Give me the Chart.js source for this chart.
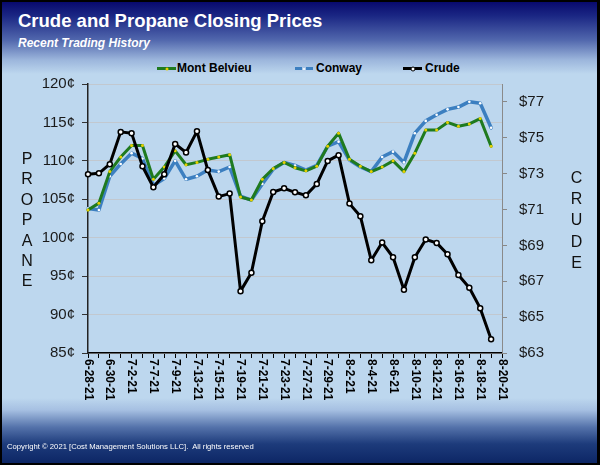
<!DOCTYPE html>
<html>
<head>
<meta charset="utf-8">
<script src="https://cdn.jsdelivr.net/npm/chart.js@4.4.0/dist/chart.umd.min.js"></script>
<style>
  body { margin: 0; }
  #wrap {
    position: relative; width: 600px; height: 465px; overflow: hidden;
    font-family: Arial, "Liberation Sans", sans-serif;
    background: linear-gradient(to bottom, #05056a 0px, #1b2784 16px, #5167ad 40px, #9cb6dc 60px, #bdd7ee 74px,
      #bdd7ee 398px, #a6c0e2 410px, #5573ab 427px, #1d3b7b 444px, #0b2463 465px);
  }
  #wrap::after {
    content: ""; position: absolute; left: 0; top: 0; right: 0; bottom: 0;
    border: solid #000; border-width: 2px 3px 2px 2px; pointer-events: none;
  }
  canvas { position: absolute; left: 0; top: 0; }
  .t1 { position: absolute; left: 18px; top: 12px; color: #fff; font-weight: bold; font-size: 18.5px; line-height: 18.5px; white-space: nowrap; }
  .t2 { position: absolute; left: 18px; top: 36.5px; color: #fff; font-weight: bold; font-style: italic; font-size: 12px; line-height: 12px; white-space: nowrap; }
  .foot { position: absolute; left: 7px; top: 443px; color: #fff; font-size: 7.7px; line-height: 7.7px; white-space: pre; }
  .lg { position: absolute; top: 61px; font-weight: bold; font-size: 12px; line-height: 14px; color: #000; white-space: nowrap; }
  .mk { position: absolute; top: 67px; height: 3px; }
  .dot { position: absolute; left: 50%; top: 50%; transform: translate(-50%, -50%); border-radius: 50%; }
</style>
</head>
<body>
<div id="wrap">
  <div class="t1">Crude and Propane Closing Prices</div>
  <div class="t2">Recent Trading History</div>

  <div class="mk" style="left:157px;width:19px;background:#1f7a1f"><span class="dot" style="width:3px;height:3px;background:#e8d000"></span></div>
  <div class="lg" style="left:177px">Mont Belvieu</div>
  <div class="mk" style="left:295px;width:18px;background:linear-gradient(to right,#3c7fc0 0 7px,transparent 7px 11px,#3c7fc0 11px)"><span class="dot" style="width:2px;height:2px;background:#fff"></span></div>
  <div class="lg" style="left:316px">Conway</div>
  <div class="mk" style="left:403px;width:19px;background:#000"><span class="dot" style="width:3px;height:3px;background:#fff;border:1.5px solid #000"></span></div>
  <div class="lg" style="left:425px">Crude</div>

  <canvas id="chart" width="600" height="465"></canvas>
  <div class="foot">Copyright © 2021 [Cost Management Solutions LLC].  All rights reserved</div>
</div>

<script>
  // trading days (only every other one gets a label on the axis)
  const dates = [
    "6-28-21", "6-29-21", "6-30-21", "7-1-21", "7-2-21", "7-6-21", "7-7-21", "7-8-21", "7-9-21",
    "7-12-21", "7-13-21", "7-14-21", "7-15-21", "7-16-21", "7-19-21", "7-20-21", "7-21-21", "7-22-21",
    "7-23-21", "7-26-21", "7-27-21", "7-28-21", "7-29-21", "7-30-21", "8-2-21", "8-3-21", "8-4-21",
    "8-5-21", "8-6-21", "8-9-21", "8-10-21", "8-11-21", "8-12-21", "8-13-21", "8-16-21", "8-17-21",
    "8-18-21", "8-19-21", "8-20-21"
  ];

  // propane, cents per gallon
  const montBelvieu = [
    103.6, 104.5, 108.6, 110.5, 112.0, 112.0, 107.6, 109.2, 111.3, 109.5,
    109.8, 110.2, 110.5, 110.8, 105.3, 104.9, 107.6, 109.0, 109.8, 109.1,
    108.7, 109.3, 111.9, 113.6, 110.2, 109.3, 108.6, 109.2, 110.0, 108.6,
    111.0, 114.0, 114.0, 115.0, 114.5, 114.8, 115.5, 111.9
  ];
  const conway = [
    103.8, 103.6, 108.0, 109.6, 111.0, 110.3, 106.8, 107.7, 110.0, 107.6,
    108.0, 108.8, 108.6, 109.2, 105.4, 104.9, 107.0, 108.9, 109.8, 109.4,
    108.8, 109.4, 111.9, 112.5, 110.1, 109.2, 108.6, 110.5, 111.2, 109.8,
    113.6, 115.2, 116.0, 116.7, 117.0, 117.7, 117.5, 114.3
  ];

  // crude, dollars per barrel
  const crude = [
    72.97, 73.02, 73.53, 75.33, 75.26, 73.41, 72.24, 72.97, 74.66, 74.18,
    75.36, 73.20, 71.72, 71.89, 66.45, 67.48, 70.35, 71.98, 72.18, 71.96,
    71.79, 72.42, 73.71, 74.03, 71.33, 70.63, 68.17, 69.16, 68.34, 66.53,
    68.34, 69.33, 69.14, 68.51, 67.35, 66.64, 65.50, 63.77
  ];

  const propaneTicks = [85, 90, 95, 100, 105, 110, 115, 120];
  const crudeTicks = [63, 65, 67, 69, 71, 73, 75, 77];
  const leftName = "PROPANE";
  const rightName = "CRUDE";

  Chart.defaults.font.family = "Arial, 'Liberation Sans', sans-serif";

  // rotated date labels and the stacked axis names
  const sideText = {
    id: "sideText",
    afterDraw(chart) {
      const ctx = chart.ctx;
      const xs = chart.scales.x;
      ctx.save();
      ctx.fillStyle = "#000";
      ctx.font = "bold 12px Arial, 'Liberation Sans', sans-serif";
      ctx.textAlign = "left";
      ctx.textBaseline = "middle";
      dates.forEach((d, i) => {
        if (i % 2) return;
        ctx.save();
        ctx.translate(xs.getPixelForValue(i), xs.top + 6);
        ctx.rotate(Math.PI / 2);
        ctx.fillText(d, 0, 0);
        ctx.restore();
      });
      ctx.fillStyle = "#111";
      ctx.font = "16px Arial, 'Liberation Sans', sans-serif";
      ctx.textAlign = "center";
      [...leftName].forEach((ch, k) => ctx.fillText(ch, 27, 159.5 + k * 20.4));
      [...rightName].forEach((ch, k) => ctx.fillText(ch, 576.5, 178.5 + k * 21.25));
      ctx.restore();
    }
  };

  new Chart(document.getElementById("chart").getContext("2d"), {
    type: "line",
    data: {
      labels: dates,
      datasets: [
        {
          label: "Crude",
          data: crude,
          yAxisID: "y2",
          borderColor: "#000",
          borderWidth: 3,
          pointRadius: 2.5,
          pointBackgroundColor: "#fff",
          pointBorderColor: "#000",
          pointBorderWidth: 1.5,
        },
        {
          label: "Mont Belvieu",
          data: montBelvieu,
          yAxisID: "y",
          borderColor: "#1f7a1f",
          borderWidth: 3,
          pointRadius: 1.5,
          pointBackgroundColor: "#e8d000",
          pointBorderWidth: 0,
        },
        {
          label: "Conway",
          data: conway,
          yAxisID: "y",
          borderColor: "#3c7fc0",
          borderWidth: 3.5,
          pointRadius: 1.3,
          pointBackgroundColor: "#fff",
          pointBorderWidth: 0,
        },
      ],
    },
    options: {
      responsive: false,
      animation: false,
      events: [],
      elements: { line: { tension: 0, borderJoinStyle: "round", borderCapStyle: "round" } },
      layout: { padding: { left: 0, right: 0, top: 84, bottom: 52 } },
      plugins: { legend: { display: false }, tooltip: { enabled: false } },
      scales: {
        x: {
          afterFit: (s) => { s.height = 60; },
          grid: { drawOnChartArea: false, tickLength: 5, tickColor: "#000", lineWidth: 1 },
          border: { color: "#000", width: 1.5 },
          ticks: { display: false },
        },
        y: {
          position: "left",
          min: 85,
          max: 120,
          afterFit: (s) => { s.width = 88; },
          afterBuildTicks: (s) => { s.ticks = propaneTicks.map((v) => ({ value: v })); },
          grid: { color: "#c2c8cf", lineWidth: 1, tickLength: 6, tickColor: "#333" },
          border: { color: "#222", width: 1.5 },
          ticks: {
            padding: 7,
            color: "#1a1a1a",
            font: { size: 15 },
            callback: (v) => v + "¢",
          },
        },
        y2: {
          position: "right",
          min: 63,
          max: 78,
          afterFit: (s) => { s.width = 98; },
          afterBuildTicks: (s) => { s.ticks = crudeTicks.map((v) => ({ value: v })); },
          grid: { drawOnChartArea: false, tickLength: 5, tickColor: "#888" },
          border: { color: "#8a8a8a", width: 1 },
          ticks: {
            padding: 12,
            color: "#1a1a1a",
            font: { size: 15 },
            callback: (v) => "$" + v,
          },
        },
      },
    },
    plugins: [sideText],
  });
</script>
</body>
</html>
